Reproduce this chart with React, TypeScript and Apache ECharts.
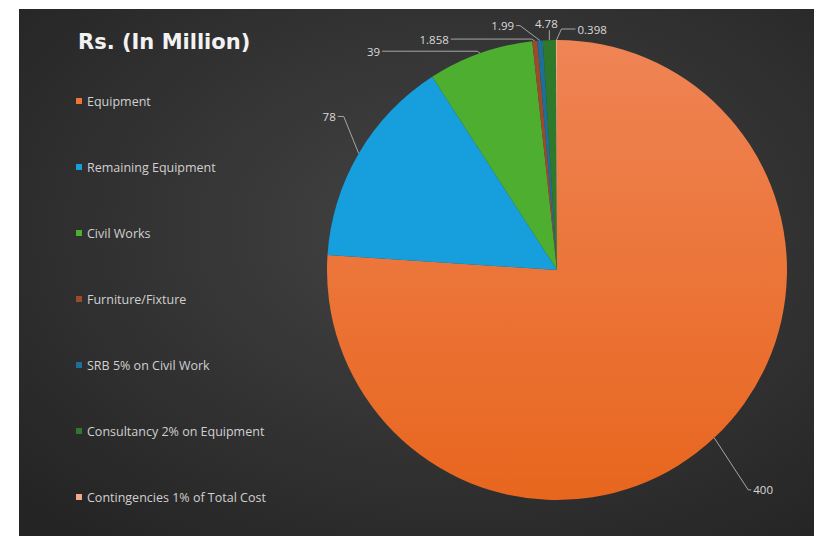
import React, { useEffect, useRef } from "react";
import * as echarts from "echarts";

const categories = [
  "Equipment",
  "Remaining Equipment",
  "Civil Works",
  "Furniture/Fixture",
  "SRB 5% on Civil Work",
  "Consultancy 2% on Equipment",
  "Contingencies 1% of Total Cost",
];
const values = [400, 78, 39, 1.858, 1.99, 4.78, 0.398];
const valueLabels = ["400", "78", "39", "1.858", "1.99", "4.78", "0.398"];
const sliceColors = ["#EC7535", "#179EDD", "#4DAE2F", "#9B4A2A", "#1E6E9A", "#2F7A2A", "#F4A888"];

// label leader offsets (elbow dx, dy, horizontal tail, alignment)
const leader = [
  { ex: 34, ey: 52, hx: 3, align: "left", va: "middle" },
  { ex: -15, ey: -37, hx: -6, align: "right", va: "middle" },
  { ex: -3, ey: -2, hx: -95, align: "right", va: "middle" },
  { ex: -3, ey: -2, hx: -81, align: "right", va: "middle" },
  { ex: -20, ey: -15, hx: -4, align: "right", va: "middle" },
  { ex: 0, ey: -10, hx: 0, align: "center", va: "bottom" },
  { ex: 5, ey: -11, hx: 14, align: "left", va: "middle" },
];

export default function App() {
  const ref = useRef<HTMLDivElement>(null);
  useEffect(() => {
    if (!ref.current) return;
    const chart = echarts.init(ref.current, undefined, { renderer: "svg" });
    const orangeGrad = new echarts.graphic.LinearGradient(0, 0, 0, 1, [
      { offset: 0, color: "#EF8455" },
      { offset: 1, color: "#E8661E" },
    ]);
    const data = categories.map((name, i) => ({
      name,
      value: values[i],
      itemStyle: { color: i === 0 ? orangeGrad : sliceColors[i] },
    }));
    chart.setOption({
      animation: false,
      backgroundColor: {
        type: "radial",
        x: 0.55,
        y: 0.42,
        r: 0.75,
        colorStops: [
          { offset: 0, color: "#444444" },
          { offset: 1, color: "#242424" },
        ],
      },
      textStyle: { fontFamily: "Open Sans" },
      title: {
        text: "Rs. (In Million)",
        left: 59,
        top: 22,
        padding: 0,
        textStyle: { color: "#f2f2f2", fontSize: 21, fontWeight: "bold", fontFamily: "DejaVu Sans" },
      },
      legend: {
        orient: "vertical",
        left: 57,
        top: 85,
        padding: 0,
        itemWidth: 6,
        itemHeight: 6,
        itemGap: 52,
        icon: "rect",
        textStyle: { color: "#d0d0d0", fontSize: 12.5, lineHeight: 14, fontFamily: "Open Sans" },
        data: categories.map((name, i) => ({ name, itemStyle: { color: sliceColors[i] } })),
      },
      series: [
        {
          type: "pie",
          center: [538, 261],
          radius: [0, 230],
          startAngle: 90,
          clockwise: true,
          itemStyle: { borderWidth: 0 },
          data,
          label: {
            show: true,
            position: "outside",
            color: "#d9d9d9",
            fontSize: 11.5,
            fontFamily: "Open Sans",
            formatter: (p: any) => valueLabels[p.dataIndex],
          },
          labelLine: {
            show: true,
            length: 10,
            length2: 10,
            lineStyle: { color: "#a6a6a6", width: 1 },
          },
          labelLayout: (params: any) => {
            const pts = params.labelLinePoints;
            if (!pts || !pts[0]) return {};
            const o = leader[params.dataIndex];
            const a = pts[0];
            const e = [a[0] + o.ex, a[1] + o.ey];
            const t = [e[0] + o.hx, e[1]];
            const gap = o.align === "left" ? 2 : o.align === "right" ? -2 : -3;
            const ty = o.va === "bottom" ? t[1] - 1 : t[1];
            return {
              x: t[0] + gap,
              y: ty,
              align: o.align,
              verticalAlign: o.va,
              labelLinePoints: [a, e, t],
            };
          },
          emphasis: { disabled: true },
        },
      ],
    });
    return () => chart.dispose();
  }, []);
  return (
    <div
      ref={ref}
      style={{ position: "absolute", left: 19, top: 9, width: 795, height: 527 }}
    />
  );
}
